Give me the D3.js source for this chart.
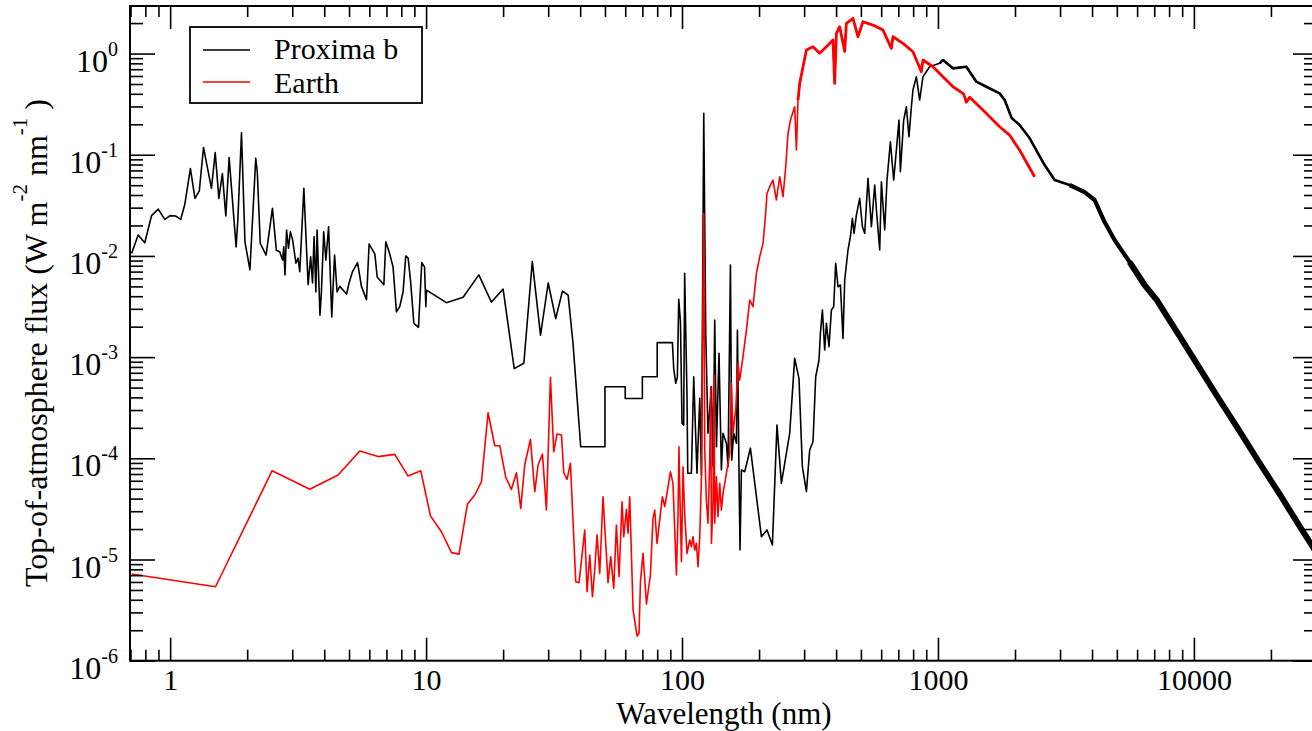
<!DOCTYPE html>
<html>
<head>
<meta charset="utf-8">
<script src="https://cdnjs.cloudflare.com/ajax/libs/d3/7.8.5/d3.min.js"></script>
<style>
  body { margin: 0; background: #fff; }
  svg { display: block; }
</style>
</head>
<body>
<svg id="chart" width="1312" height="731"></svg>
<script>
// wavelength (nm), top-of-atmosphere flux (W m-2 nm-1)
var proxima = [
  [0.707,1.06e-2],[0.75,1.61e-2],[0.796,1.35e-2],[0.846,2.5e-2],[0.898,2.9e-2],[0.953,2.3e-2],[1.0,2.5e-2],
  [1.05,2.48e-2],[1.1,2.3e-2],[1.14,3.2e-2],[1.2,7.3e-2],[1.25,3.7e-2],[1.3,4.4e-2],[1.35,0.118],[1.45,4.66e-2],
  [1.5,0.105],[1.55,3.7e-2],[1.6,6.5e-2],[1.65,2.48e-2],[1.7,9.4e-2],[1.81,1.23e-2],[1.84,2.35e-2],[1.9,0.165],
  [1.96,1.38e-2],[2.05,7.3e-3],[2.16,9.2e-2],[2.19,6.8e-2],[2.25,1.33e-2],[2.37,1.02e-2],[2.51,2.95e-2],
  [2.6,1.14e-2],[2.68,1.1e-2],[2.75,9.1e-3],[2.78,1.23e-2],[2.81,6.5e-3],[2.85,1.8e-2],[2.9,1.19e-2],
  [2.95,1.73e-2],[3.01,1.44e-2],[3.1,8.5e-3],[3.16,9.5e-3],[3.21,7.0e-3],[3.33,4.66e-2],[3.46,5.2e-3],
  [3.54,9.8e-3],[3.6,5.4e-3],[3.65,1.55e-2],[3.71,4.4e-3],[3.75,1.8e-2],[3.85,2.6e-3],[3.9,4.4e-3],
  [3.98,1.73e-2],[4.06,9.1e-3],[4.16,1.94e-2],[4.28,2.5e-3],[4.39,1.02e-2],[4.49,4.4e-3],[4.6,5.0e-3],
  [4.89,4.2e-3],[5.0,5.4e-3],[5.16,7.0e-3],[5.4,8.6e-3],[5.59,5.0e-3],[5.85,3.7e-3],[5.99,1.31e-2],
  [6.31,1.04e-2],[6.44,6.2e-3],[6.84,5.2e-3],[6.96,1.38e-2],[7.17,1.1e-2],[7.43,7.8e-3],[7.66,2.8e-3],
  [7.89,3.15e-3],[8.13,4.4e-3],[8.33,1.0e-2],[8.51,9.5e-3],[8.69,5.8e-3],[8.96,2.16e-3],[9.34,1.97e-3],
  [9.62,8.6e-3],[9.86,7.8e-3],[9.98,3.15e-3],[10.04,4.6e-3],[12.0,3.45e-3],[13.96,3.9e-3],[16.07,6.5e-3],
  [18.0,3.5e-3],[20.0,4.7e-3],[22.1,7.7e-4],[24.1,8.7e-4],[26.0,8.8e-3],[28.0,1.65e-3],[30.0,5.4e-3],
  [32.1,2.4e-3],[34.1,4.5e-3],[35.9,4.1e-3],[37.5,1.37e-3],[40.2,1.3e-4],[50,1.3e-4],[50,5.1e-4],
  [60,5.1e-4],[60,3.9e-4],[70,3.9e-4],[70,6.4e-4],[80,6.4e-4],[80,1.39e-3],[91.7,1.39e-3],
  [92.8,7.75e-4],[94.5,5.51e-4],[95.9,6.32e-4],[97.1,3.72e-3],[98.6,2.24e-3],[100,2.22e-4],[101.5,2.13e-4],
  [102.4,6.73e-3],[104.6,4.06e-4],[105.3,7.11e-5],[108.8,7.11e-5],[111.1,6.4e-4],[114.4,7.11e-5],
  [117.3,3.92e-4],[119.1,6.84e-5],[121.6,0.2565],[123.8,1.72e-3],[126.3,1.77e-4],[130.3,5.1e-4],
  [132.2,8.26e-5],[134.2,2.33e-3],[136.3,1.3e-4],[139.5,1.09e-3],[142.5,7.66e-5],[144.6,1.77e-4],
  [149.1,1.41e-4],[151.3,8.26e-5],[154.6,8.13e-3],[156.4,9.6e-5],[159.2,1.77e-4],[163.2,1.41e-4],
  [164.6,1.85e-3],[167.0,7.11e-5],[168.5,1.24e-5],[170.6,7.66e-5],[175.8,7.37e-5],[185.0,1.26e-4],
  [204.3,1.68e-5],[214.8,1.96e-5],[225.5,1.39e-5],[235.0,2.13e-4],[244.5,5.66e-5],[263.5,1.77e-4],
  [275.5,9.73e-4],[286.4,6.17e-4],[295.3,8.26e-5],[306.2,4.68e-5],[315.4,1.21e-4],[324.9,1.46e-4],
  [332.9,6.4e-4],[343.0,9.36e-4],[347.3,1.72e-3],[353.6,2.92e-3],[361.0,1.175e-3],[366.6,2.16e-3],
  [375.2,1.27e-3],[383.4,2.92e-3],[391.4,3.15e-3],[398.5,8.45e-3],[406.9,4.96e-3],[415.8,5.16e-3],
  [425.6,1.53e-3],[432.2,5.78e-3],[445.2,1.144e-2],[454.9,1.548e-2],[463.2,2.352e-2],[469.9,1.672e-2],
  [480.1,2.535e-2],[494.6,3.71e-2],[506.8,1.943e-2],[517.4,1.672e-2],[533.0,5.84e-2],[549.5,1.943e-2],
  [566.1,5.02e-2],[574.9,2.84e-2],[592.2,1.144e-2],[601.2,5.41e-2],[619.3,1.803e-2],[632.3,5.62e-2],
  [651.9,0.1344],[671.5,5.62e-2],[691.6,0.1297],[704.3,0.220],[713.2,6.79e-2],[734.6,0.220],[752.7,0.298],
  [770.4,0.1506],[787.3,0.298],[798.7,0.436],[823.5,0.590],[848.3,0.347],[874.0,0.590],[928.1,0.741],
  [1015,0.80],[1046,0.863],[1145,0.714],[1291,0.741],[1413,0.527],[1546,0.470],[1742,0.404],[1822,0.347],
  [1941,0.2306],[2084,0.1966],[2280,0.1462],[2611,0.0791],[2857,0.0562],[3269,0.0502],[3741,0.0428],
  [4094,0.0357],[4479,0.0216],[4899,0.01436],[5609,8.7e-3],[6420,5.16e-3],[7152,3.67e-3],[8792,1.616e-3],
  [10527,7.8e-4],[12600,3.77e-4],[15085,1.86e-4],[18054,8.99e-5],[21614,4.44e-5],[25880,2.14e-5],[29880,1.21e-5]
];

var earth = [
  [0.707,7.19e-6],[1.504,5.38e-6],[2.503,7.54e-5],[3.513,4.94e-5],[4.532,6.84e-5],[5.508,1.18e-4],
  [6.494,1.04e-4],[7.546,1.094e-4],[8.506,6.68e-5],[9.535,7.54e-5],[10.4,2.7e-5],[11.48,1.88e-5],
  [12.57,1.17e-5],[13.45,1.13e-5],[14.51,3.53e-5],[15.5,4.34e-5],[16.46,5.87e-5],[17.47,2.82e-4],
  [18.55,1.33e-4],[19.41,1.33e-4],[20.48,6.49e-5],[21.55,4.94e-5],[22.55,7.2e-5],[23.44,3.2e-5],
  [24.29,8.59e-5],[25.57,1.54e-4],[26.59,4.68e-5],[27.39,8.59e-5],[28.49,1.1e-4],[29.53,3.08e-5],
  [30.61,6.32e-4],[31.54,1.16e-4],[32.49,1.74e-4],[33.81,1.7e-4],[34.51,7.2e-5],[35.55,6.2e-5],
  [36.65,8.93e-5],[38.44,6.04e-6],[39.6,5.9e-6],[41.69,1.96e-5],[42.56,4.81e-6],[43.6,1.108e-5],
  [44.67,4.29e-6],[45.6,7.87e-6],[46.56,1.75e-5],[47.7,7.3e-6],[49.13,4.17e-5],[51.4,5.9e-6],
  [52.66,1.066e-5],[54.1,5.19e-6],[55.41,2.19e-5],[56.75,6.76e-6],[58.3,3.72e-5],[59.2,1.68e-5],
  [60.64,3.13e-5],[61.52,1.82e-5],[62.47,4.17e-5],[64.38,3.17e-6],[66.74,1.75e-6],[67.92,1.87e-6],
  [68.8,6.04e-6],[70.41,1.15e-5],[72.6,3.63e-6],[75.25,7.03e-6],[77.03,2.55e-5],[78.23,3.08e-5],
  [79.86,1.445e-5],[81.83,2.46e-5],[83.8,4.17e-5],[85.6,3.33e-5],[88.2,5.24e-5],[90.1,7.37e-5],
  [92.2,5.66e-5],[93.65,1.96e-5],[95.08,7.03e-6],[96.47,2.75e-5],[97.3,1.3e-4],[97.95,5.24e-5],
  [99.5,9.5e-6],[100.9,8.26e-5],[102.4,2.86e-5],[104.6,1.15e-5],[107.2,1.56e-5],[108.8,1.34e-5],
  [110.4,1.68e-5],[112.1,1.24e-5],[113.8,1.445e-5],[115.5,8.49e-6],[117.3,1.68e-5],[119.1,6.58e-5],
  [121.6,2.64e-2],[122.7,1.21e-4],[124.5,3.87e-5],[126.3,2.28e-5],[128.3,9.6e-5],[129.5,5.1e-4],
  [130.3,1.445e-5],[132.2,3.87e-5],[133.5,6.65e-4],[134.2,2.28e-5],[136.3,6.58e-5],[138.2,2.65e-5],
  [140.4,5.66e-5],[142.5,3.08e-5],[144.6,4.51e-5],[149.1,7.11e-5],[153.6,1.12e-4],[156.0,5.51e-4],
  [158.2,1.77e-4],[162.1,3.0e-4],[165.5,8.69e-4],[168.0,5.94e-4],[173.1,1.009e-3],[178.5,1.85e-3],
  [183.9,3.67e-3],[189.4,3.15e-3],[195.3,6.73e-3],[201.2,9.82e-3],[207.3,1.332e-2],[212.3,2.64e-2],
  [214.8,4.155e-2],[220.1,4.83e-2],[226.7,5.62e-2],[233.7,3.57e-2],[240.8,6.06e-2],[248.1,3.85e-2],
  [254.2,7.61e-2],[259.5,0.1627],[265.2,0.22],[275.5,0.298],[279.9,0.1113],[283.9,0.347],[288.3,0.5076],
  [306.2,1.083],[324.9,1.167],[345.1,1.005],[366.6,1.167],[388.9,1.359],[394.9,0.5076],[401.0,1.583],
  [413.0,1.84],[432.2,1.05],[438.7,1.988],[465.6,2.228],[486.9,1.466],[509.3,2.062],[557.3,1.912],
  [609.9,1.707],[657.7,1.126],[667.2,1.466],[730.0,1.261],[798.7,1.042],[861.4,0.661],[874.0,0.863],
  [956.1,0.741],[1046,0.59],[1145,0.47],[1260,0.40],[1291,0.33],[1330,0.37],[1499,0.2765],[1742,0.189],
  [1905,0.1565],[2084,0.1113],[2386,0.0606]
];

var xMajor = [1, 10, 100, 1000, 10000];
var yMajor = [1e-6, 1e-5, 1e-4, 1e-3, 1e-2, 1e-1, 1];
var seriesNames = ['Proxima b', 'Earth'];
var seriesColors = ['#000000', '#ff0000'];

var FONT = '"Liberation Serif", "DejaVu Serif", "Noto Serif", "Times New Roman", Times, serif';
var L = 130, T = 6, R = 1316, B = 660.7;

var x = d3.scaleLog().domain([0.7, 30000]).range([130.5, R]);
var y = d3.scaleLog().domain([1e-6, 2.95]).range([B, T]);

var svg = d3.select('#chart').attr('font-family', FONT);

svg.append('defs').append('clipPath').attr('id', 'clip')
  .append('rect').attr('x', L).attr('y', T).attr('width', R - L).attr('height', B - T);

var line = d3.line().x(function (d) { return x(d[0]); }).y(function (d) { return y(d[1]); });

var plot = svg.append('g').attr('clip-path', 'url(#clip)');

function drawSeries(data, color, width) {
  plot.append('path')
    .datum(data)
    .attr('d', line)
    .attr('fill', 'none')
    .attr('stroke', color)
    .attr('stroke-width', width)
    .attr('stroke-linejoin', 'round');
}

// black first, red on top; dense parts of the spectra look thicker
drawSeries(proxima, seriesColors[0], 1.6);
drawSeries(proxima.filter(function (d) { return d[0] >= 950; }), seriesColors[0], 2.6);
drawSeries(proxima.filter(function (d) { return d[0] >= 3000; }), seriesColors[0], 4.2);
drawSeries(proxima.filter(function (d) { return d[0] >= 5000; }), seriesColors[0], 6);
drawSeries(earth, seriesColors[1], 1.6);
drawSeries(earth.filter(function (d) { return d[0] >= 280; }), seriesColors[1], 2.8);

// axes, ticks pointing inward on all four sides
var minorX = x.ticks().filter(function (d) { return xMajor.indexOf(d) < 0; });
var minorY = y.ticks().filter(function (d) { return yMajor.indexOf(d) < 0; });

function axisGroup(gen, tx, ty) {
  var g = svg.append('g').attr('transform', 'translate(' + tx + ',' + ty + ')').call(gen);
  g.select('.domain').remove();
  g.selectAll('.tick line').attr('stroke', '#000').attr('stroke-width', 1.6);
  g.attr('font-size', 30).attr('font-family', FONT);
  g.selectAll('.tick text').attr('fill', '#000');
  return g;
}

var gxb = axisGroup(d3.axisBottom(x).tickValues(xMajor).tickSize(-23).tickFormat(d3.format('d')), 0, B);
gxb.selectAll('.tick text').attr('y', 29.5).attr('dy', 0);
axisGroup(d3.axisBottom(x).tickValues(minorX).tickSize(-11).tickFormat(''), 0, B);
axisGroup(d3.axisTop(x).tickValues(xMajor).tickSize(-23).tickFormat(''), 0, T);
axisGroup(d3.axisTop(x).tickValues(minorX).tickSize(-11).tickFormat(''), 0, T);

var gyl = axisGroup(d3.axisLeft(y).tickValues(yMajor).tickSize(-25).tickFormat(''), L, 0);
gyl.selectAll('.tick text').each(function (d) {
  var t = d3.select(this).attr('x', -12).attr('y', 17.5).attr('dy', null).attr('text-anchor', 'end')
    .attr('font-size', 32);
  t.append('tspan').text('10');
  t.append('tspan').attr('dy', -16).attr('font-size', 20).text(String(Math.round(Math.log10(d))));
});
axisGroup(d3.axisLeft(y).tickValues(minorY).tickSize(-13).tickFormat(''), L, 0);
axisGroup(d3.axisRight(y).tickValues(yMajor).tickSize(-23).tickFormat(''), R, 0);
axisGroup(d3.axisRight(y).tickValues(minorY).tickSize(-12).tickFormat(''), R, 0);

svg.append('rect')
  .attr('x', L).attr('y', T).attr('width', R - L).attr('height', B - T)
  .attr('fill', 'none').attr('stroke', '#000').attr('stroke-width', 2);

// axis titles
svg.append('text')
  .attr('x', 724).attr('y', 724)
  .attr('text-anchor', 'middle')
  .attr('font-size', 31)
  .text('Wavelength (nm)');

var yt = svg.append('text')
  .attr('transform', 'translate(47,343) rotate(-90)')
  .attr('text-anchor', 'middle')
  .attr('font-size', 32);
yt.append('tspan').text('Top-of-atmosphere flux (W m');
yt.append('tspan').attr('dy', -20).attr('font-size', 21).text('-2');
yt.append('tspan').attr('dy', 20).text(' nm');
yt.append('tspan').attr('dy', -20).attr('font-size', 21).text('-1');
yt.append('tspan').attr('dy', 20).text(' )');

// legend
var lg = svg.append('g');
lg.append('rect')
  .attr('x', 190).attr('y', 27).attr('width', 232).attr('height', 76)
  .attr('fill', '#fff').attr('stroke', '#000').attr('stroke-width', 1.8);
seriesNames.forEach(function (name, i) {
  lg.append('line')
    .attr('x1', 203).attr('x2', 250).attr('y1', 50 + i * 32).attr('y2', 50 + i * 32)
    .attr('stroke', seriesColors[i]).attr('stroke-width', 1.6);
  lg.append('text')
    .attr('x', 274).attr('y', 58.5 + i * 34)
    .attr('font-size', 30)
    .text(name);
});
</script>
</body>
</html>
